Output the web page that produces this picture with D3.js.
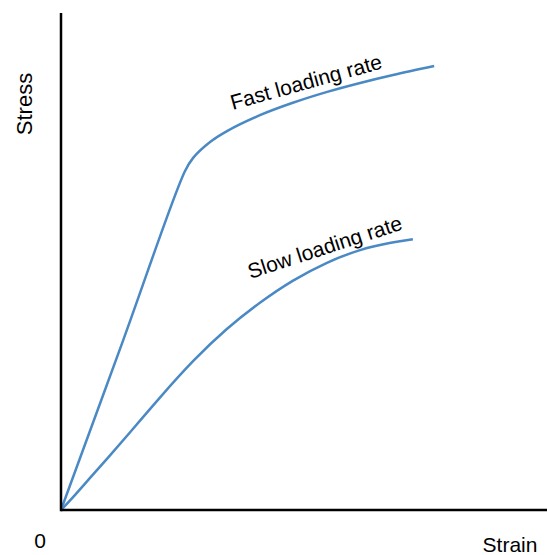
<!DOCTYPE html>
<html><head><meta charset="utf-8">
<script src="https://cdn.jsdelivr.net/npm/d3@7"></script>
<style>body{margin:0;background:#fff}svg{display:block}text{font-family:"Liberation Sans",Arial,sans-serif;fill:#000}</style>
</head><body>
<script>
const fastStrain = [0, 0.128, 0.256, 0.273, 0.308, 0.343, 0.411, 0.479, 0.550, 0.618, 0.686, 0.771];
const fastStress = [0, 0.341, 0.683, 0.710, 0.742, 0.764, 0.796, 0.821, 0.843, 0.861, 0.877, 0.895];
const slowStrain = [0, 0.029, 0.062, 0.097, 0.136, 0.205, 0.273, 0.343, 0.411, 0.479, 0.550, 0.618, 0.686, 0.727];
const slowStress = [0, 0.030, 0.067, 0.105, 0.149, 0.228, 0.302, 0.367, 0.419, 0.464, 0.500, 0.526, 0.540, 0.546];
const labels = {x: "Strain", y: "Stress", origin: "0", fast: "Fast loading rate", slow: "Slow loading rate"};

const W = 547, H = 555;
const svg = d3.select("body").append("svg").attr("width", W).attr("height", H);
const x = d3.scaleLinear().domain([0, 1]).range([61, 545]);
const y = d3.scaleLinear().domain([0, 1]).range([510, 14]);

const fastLine = d3.line().x(d => x(d[0])).y(d => y(d[1])).curve(d3.curveCatmullRom.alpha(0.5));
const slowLine = d3.line().x(d => x(d[0])).y(d => y(d[1])).curve(d3.curveBasis);
const fast = fastStrain.map((v, i) => [v, fastStress[i]]);
const slow = slowStrain.map((v, i) => [v, slowStress[i]]);
const blue = "#4a89c4";
svg.append("path").attr("d", fastLine(fast)).attr("fill", "none").attr("stroke", blue).attr("stroke-width", 2.5);
svg.append("path").attr("d", slowLine(slow)).attr("fill", "none").attr("stroke", blue).attr("stroke-width", 2.5);

// axes
svg.append("line").attr("x1", x(0)).attr("x2", x(0)).attr("y1", 13).attr("y2", y(0) + 1.25).attr("stroke", "#000").attr("stroke-width", 2.5);
svg.append("line").attr("x1", x(0)).attr("x2", W).attr("y1", y(0)).attr("y2", y(0)).attr("stroke", "#000").attr("stroke-width", 2.5);

const fs = 21;
svg.append("text").attr("transform", "translate(32,104) rotate(-90)").attr("text-anchor", "middle").attr("font-size", fs + 1).text(labels.y);
svg.append("text").attr("x", 40).attr("y", 548).attr("text-anchor", "middle").attr("font-size", fs).text(labels.origin);
svg.append("text").attr("x", 510).attr("y", 552).attr("text-anchor", "middle").attr("font-size", fs).text(labels.x);
svg.append("text").attr("transform", "translate(308,89) rotate(-15.5)").attr("text-anchor", "middle").attr("font-size", fs).text(labels.fast);
svg.append("text").attr("transform", "translate(327,254) rotate(-18)").attr("text-anchor", "middle").attr("font-size", fs).text(labels.slow);
</script>
</body></html>
